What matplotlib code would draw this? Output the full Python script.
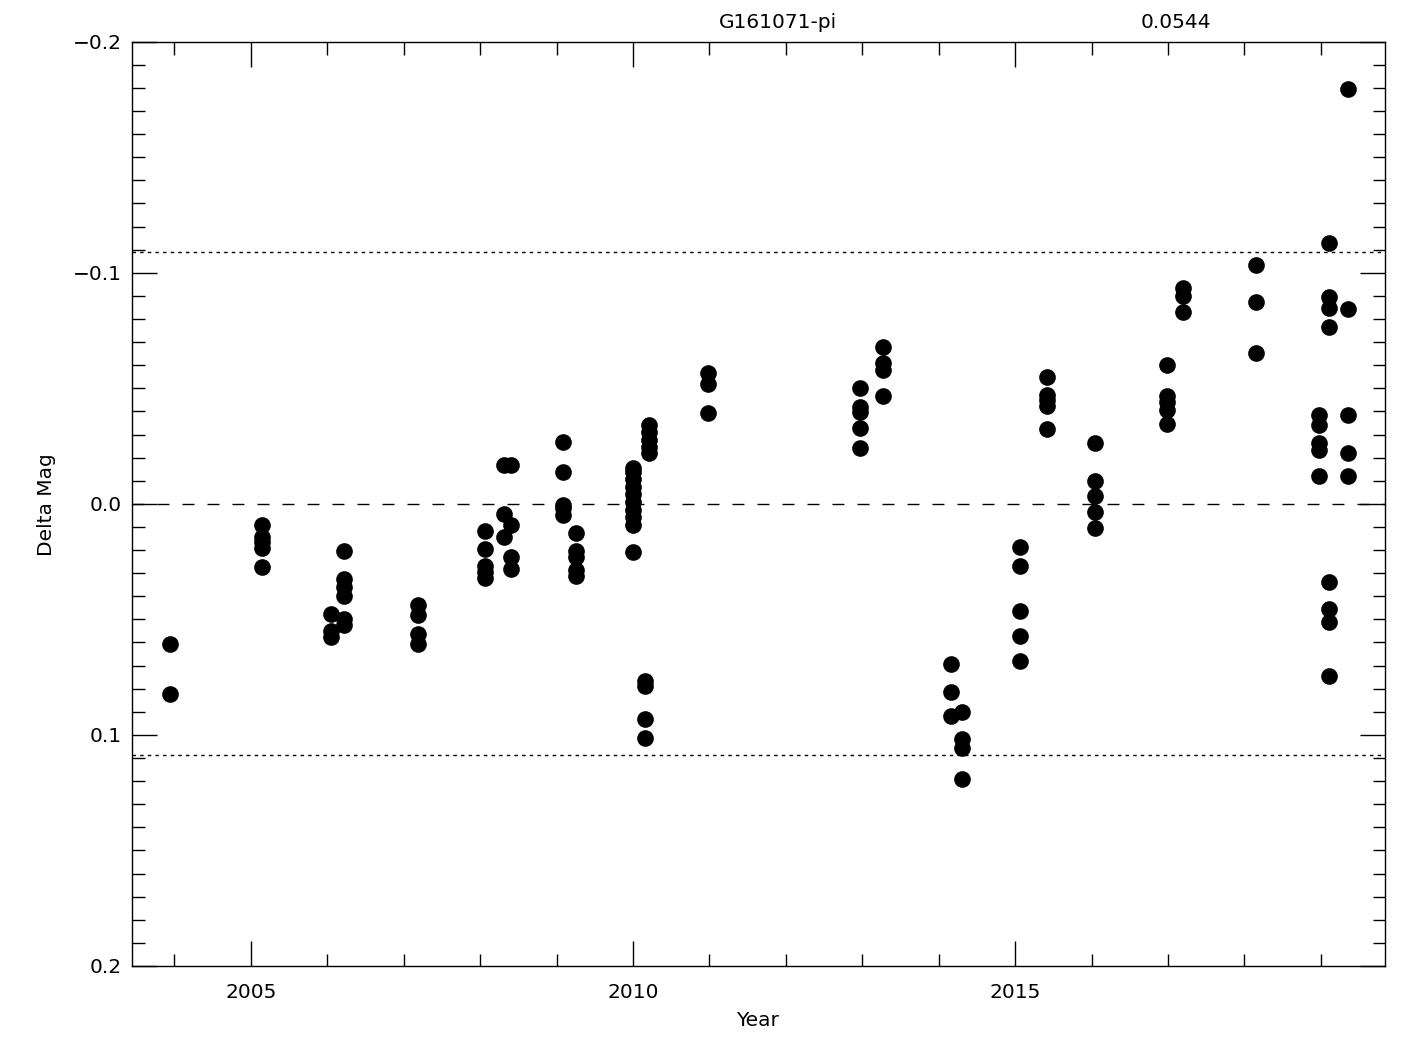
import numpy as np
import matplotlib
matplotlib.use("Agg")
import matplotlib.pyplot as plt
from matplotlib.ticker import MultipleLocator

# data, grouped by observing season
years = [2003.94, 2003.94,
         2005.14, 2005.14, 2005.14, 2005.14, 2005.14,
         2006.05, 2006.05, 2006.05,
         2006.22, 2006.22, 2006.22, 2006.22, 2006.22, 2006.22,
         2007.19, 2007.19, 2007.19, 2007.19,
         2008.06, 2008.06, 2008.06, 2008.06, 2008.06,
         2008.31, 2008.31, 2008.31,
         2008.40, 2008.40, 2008.40, 2008.40,
         2009.09, 2009.09, 2009.09, 2009.09, 2009.09,
         2009.25, 2009.25, 2009.25, 2009.25, 2009.25,
         2010.00, 2010.00, 2010.00, 2010.00, 2010.00, 2010.00, 2010.00, 2010.00, 2010.00, 2010.00,
         2010.16, 2010.16, 2010.16, 2010.16,
         2010.21, 2010.21, 2010.21, 2010.21, 2010.21,
         2010.98, 2010.98, 2010.98,
         2012.97, 2012.97, 2012.97, 2012.97, 2012.97,
         2013.27, 2013.27, 2013.27, 2013.27,
         2014.16, 2014.16, 2014.16,
         2014.30, 2014.30, 2014.30, 2014.30,
         2015.07, 2015.07, 2015.07, 2015.07, 2015.07,
         2015.42, 2015.42, 2015.42, 2015.42, 2015.42,
         2016.05, 2016.05, 2016.05, 2016.05, 2016.05,
         2016.99, 2016.99, 2016.99, 2016.99, 2016.99,
         2017.20, 2017.20, 2017.20,
         2018.15, 2018.15, 2018.15,
         2018.98, 2018.98, 2018.98, 2018.98, 2018.98,
         2019.11, 2019.11, 2019.11, 2019.11, 2019.11, 2019.11, 2019.11, 2019.11,
         2019.36, 2019.36, 2019.36, 2019.36, 2019.36]
dmag = [0.0606, 0.0823,
        0.0093, 0.0145, 0.0167, 0.0193, 0.0275,
        0.0475, 0.0549, 0.0575,
        0.0202, 0.0327, 0.0358, 0.0397, 0.0497, 0.0523,
        0.0436, 0.0482, 0.0562, 0.0605,
        0.0119, 0.0197, 0.0271, 0.0297, 0.0323,
        -0.0167, 0.0046, 0.0145,
        -0.0167, 0.0093, 0.0232, 0.0284,
        -0.0268, -0.0138, 0.0006, 0.0020, 0.0050,
        0.0128, 0.0206, 0.0232, 0.0288, 0.0314,
        -0.0154, -0.0137, -0.0106, -0.0072, -0.0041, -0.0007, 0.0028, 0.0059, 0.0093, 0.0210,
        0.0765, 0.0787, 0.0930, 0.1013,
        -0.0340, -0.0310, -0.0275, -0.0245, -0.0219,
        -0.0567, -0.0518, -0.0392,
        -0.0500, -0.0419, -0.0397, -0.0328, -0.0241,
        -0.0680, -0.0610, -0.0579, -0.0467,
        0.0692, 0.0813, 0.0917,
        0.0900, 0.1017, 0.1056, 0.1189,
        0.0187, 0.0267, 0.0462, 0.0570, 0.0679,
        -0.0549, -0.0470, -0.0449, -0.0423, -0.0323,
        -0.0262, -0.0098, -0.0033, 0.0037, 0.0106,
        -0.0600, -0.0466, -0.0440, -0.0405, -0.0345,
        -0.0934, -0.0900, -0.0830,
        -0.1034, -0.0875, -0.0653,
        -0.0384, -0.0340, -0.0262, -0.0232, -0.0119,
        -0.1128, -0.0897, -0.0848, -0.0767, 0.0340, 0.0457, 0.0510, 0.0744,
        -0.1796, -0.0843, -0.0384, -0.0219, -0.0119]

star = "G161071-pi"
sigma = 0.0544

plt.rcParams['font.family'] = ['DejaVu Sans']
fs = 14.5

fig = plt.figure(figsize=(14.25, 10.5), dpi=100)
ax = fig.add_axes([0.0924, 0.08, 0.8795, 0.8803])

ax.plot(years, dmag, 'o', color='black', ms=12, mew=0)

ax.axhline(0.0, color='black', lw=1.0, dashes=(8.6, 9.4))
ax.axhline(2 * sigma, color='black', lw=1.0, dashes=(2.5, 3))
ax.axhline(-2 * sigma, color='black', lw=1.0, dashes=(2.5, 3))

ax.set_xlim(2003.44, 2019.84)
ax.set_ylim(0.2, -0.2)

ax.xaxis.set_major_locator(MultipleLocator(5))
ax.xaxis.set_minor_locator(MultipleLocator(1))
ax.yaxis.set_major_locator(MultipleLocator(0.1))
ax.yaxis.set_minor_locator(MultipleLocator(0.01))
ax.yaxis.set_major_formatter(plt.FuncFormatter(lambda v, p: f"{v:.1f}".replace('-', '\u2212')))

ax.tick_params(which='both', direction='in', top=True, right=True, width=1.0, labelsize=fs)
ax.tick_params(which='major', length=18)
ax.tick_params(which='minor', length=9)
ax.tick_params(axis='x', which='major', pad=12)
ax.tick_params(axis='y', which='major', pad=7)
for s in ax.spines.values():
    s.set_linewidth(1.0)

fig.text(47 / 1425, 1 - 505 / 1050, "Delta Mag", rotation=90, ha='center', va='center', fontsize=fs)
fig.text(757 / 1425, 1 - 1026 / 1050, "Year", ha='center', va='baseline', fontsize=fs)
fig.text(778 / 1425, 1 - 28 / 1050, star, ha='center', va='baseline', fontsize=fs)
fig.text(1176 / 1425, 1 - 28 / 1050, f"{sigma:.4f}", ha='center', va='baseline', fontsize=fs)

fig.savefig("out.png", dpi=100)
